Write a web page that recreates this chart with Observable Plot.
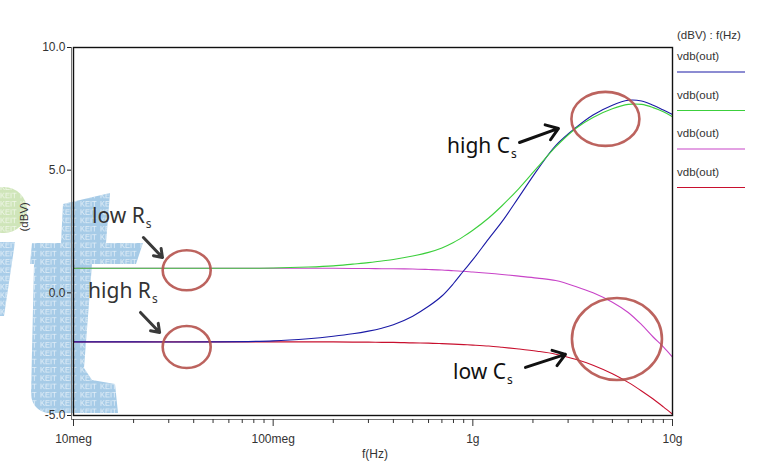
<!DOCTYPE html>
<html><head><meta charset="utf-8">
<script src="https://cdn.jsdelivr.net/npm/d3@7"></script>
<script src="https://cdn.jsdelivr.net/npm/@observablehq/plot@0.6"></script>
<style>
html,body{margin:0;padding:0;background:#fff;}
#wrap{position:relative;width:760px;height:468px;overflow:hidden;}
#wm{position:absolute;left:0;top:0;}
#chart{position:absolute;left:0;top:0;}
#chart svg{background:transparent !important;}
</style></head><body>
<div id="wrap">
<svg id="wm" width="760" height="468">
  <defs>
    <pattern id="keit" width="20" height="8.3" patternUnits="userSpaceOnUse">
      <text x="0" y="7.5" font-family="Liberation Sans, Arial" font-size="7.5" fill="#fff" fill-opacity="0.7">KEIT</text>
    </pattern>
  </defs>
  <g>
    <circle cx="4" cy="210" r="23" fill="#cfe5b9"/>
    <circle cx="4" cy="210" r="23" fill="url(#keit)"/>
    <path d="M0,242 L15,242 L4,316 L0,316 Z" fill="#a9cde9"/>
    <path d="M0,242 L15,242 L4,316 L0,316 Z" fill="url(#keit)"/>
    <path d="M63,204 L110,193 L106,243 L143,243 L136,264 L92,264 L84,368 L92,380 L115,384 L118,413 L47,413 Q33,410 31,395 L34,264 L30,264 L32,243 L61,243 Z" fill="#a6cbe7"/>
    <path d="M63,204 L110,193 L106,243 L143,243 L136,264 L92,264 L84,368 L92,380 L115,384 L118,413 L47,413 Q33,410 31,395 L34,264 L30,264 L32,243 L61,243 Z" fill="url(#keit)"/>
  </g>
</svg>
<div id="chart"></div>
</div>
<script>
// ---- data ----
const freqHz = [1e7, 2e7, 5e7, 1e8, 1.5e8, 2e8, 2.5e8, 3e8, 3.5e8, 4e8, 5e8, 6e8, 7e8, 8e8, 9e8,
  1e9, 1.2e9, 1.4e9, 1.7e9, 2.1e9, 2.6e9, 3.3e9, 4e9, 5e9, 6e9, 7e9, 8e9, 9e9, 1e10];
const dbBlue = [-2.0, -2.0, -2.0, -1.96, -1.87, -1.77, -1.67, -1.56, -1.44, -1.3, -0.95, -0.55, -0.13, 0.38, 0.9,
  1.35, 2.2, 2.9, 3.9, 5.0, 6.0, 6.75, 7.25, 7.65, 7.85, 7.82, 7.65, 7.45, 7.27];
const dbGreen = [1.0, 1.0, 1.0, 1.01, 1.05, 1.1, 1.17, 1.23, 1.3, 1.36, 1.5, 1.65, 1.83, 2.05, 2.3,
  2.55, 3.05, 3.55, 4.25, 5.1, 5.95, 6.72, 7.15, 7.5, 7.68, 7.68, 7.55, 7.38, 7.18];
const dbMagenta = [1.0, 1.0, 1.0, 1.0, 1.0, 1.0, 0.99, 0.99, 0.98, 0.98, 0.97, 0.95, 0.93, 0.9, 0.88,
  0.85, 0.8, 0.75, 0.68, 0.6, 0.5, 0.25, 0.0, -0.38, -0.8, -1.3, -1.8, -2.2, -2.62];
const dbRed = [-2.0, -2.0, -2.0, -2.0, -2.0, -2.0, -2.01, -2.01, -2.02, -2.02, -2.04, -2.05, -2.07, -2.09, -2.11,
  -2.13, -2.17, -2.22, -2.29, -2.38, -2.5, -2.72, -2.95, -3.3, -3.65, -4.0, -4.33, -4.65, -4.95];

const seriesNames = ["vdb(out)", "vdb(out)", "vdb(out)", "vdb(out)"];
const seriesColors = ["#1a1aa6", "#3ccf3c", "#c844c8", "#c8102e"];
const legendTitle = "(dBV) : f(Hz)";

const yTicks = [-5, 0, 5, 10];
const xMajorTicks = [1e7, 1e8, 1e9, 1e10];
const xMajorLabels = ["10meg", "100meg", "1g", "10g"];
const xMinorTicks = [2,3,4,5,6,7,8,9].flatMap(m => [1e7, 1e8, 1e9].map(d => m * d));

// annotations (data coordinates)
const noteMain = ["low R", "high R", "high C", "low C"];
const noteSub = ["s", "s", "s", "s"];
const noteF = [1.245e7, 1.19e7, 7.47e8, 8.0e8];
const noteV = [2.83, -0.23, 5.68, -3.53];
const ringF = [3.71e7, 3.71e7, 4.64e9, 5.3e9];
const ringV = [0.9, -2.23, 7.07, -1.9];
const arrowF1 = [2.24e7, 2.165e7, 1.713e9, 1.835e9];
const arrowV1 = [2.256, -0.80, 6.128, -3.04];
const arrowF2 = [2.79e7, 2.70e7, 2.685e9, 2.91e9];
const arrowV2 = [1.44, -1.617, 6.70, -2.51];

const toRows = vals => freqHz.map((f, i) => ({f, v: vals[i]}));

function annotations(index, scales) {
  const x = scales.x, y = scales.y;
  const g = d3.create("svg:g");
  const ringR = [[24, 20], [24, 21], [34, 27], [45, 41]];
  ringF.forEach((f, i) => {
    g.append("ellipse")
      .attr("cx", x(f)).attr("cy", y(ringV[i]))
      .attr("rx", ringR[i][0]).attr("ry", ringR[i][1])
      .attr("fill", "none").attr("stroke", "#b5524d").attr("stroke-width", 2.6).attr("stroke-opacity", 0.9);
  });
  const textColors = ["#333", "#333", "#111", "#111"];
  noteMain.forEach((t, i) => {
    const tx = g.append("text")
      .attr("x", x(noteF[i])).attr("y", y(noteV[i]))
      .attr("text-anchor", "start")
      .attr("font-family", "Noto Sans, Open Sans, sans-serif")
      .attr("font-size", 21).attr("fill", textColors[i]);
    tx.append("tspan").text(t);
    tx.append("tspan").attr("font-size", 12).attr("dy", 5).attr("dx", 1).text(noteSub[i]);
  });
  return g.node();
}

function legend(index, scales, values, dims) {
  const g = d3.create("svg:g")
    .attr("font-family", "Liberation Sans, Arial, sans-serif")
    .attr("font-size", 11.5).attr("fill", "#333").attr("text-anchor", "start");
  const x0 = dims.width - dims.marginRight + 5;
  g.append("text").attr("x", x0).attr("y", 39).text(legendTitle);
  seriesNames.forEach((s, i) => {
    const yy = 60 + i * 38.5;
    g.append("text").attr("x", x0).attr("y", yy).text(s);
    g.append("line").attr("x1", x0).attr("x2", x0 + 68)
      .attr("y1", yy + 12).attr("y2", yy + 12)
      .attr("stroke", seriesColors[i]).attr("stroke-width", 1.2);
  });
  return g.node();
}

const lineOpts = (c) => ({x: "f", y: "v", stroke: c, strokeWidth: 1.1, curve: "catmull-rom"});

const chart = Plot.plot({
  width: 760,
  height: 468,
  marginLeft: 71,
  marginRight: 88,
  marginTop: 47,
  marginBottom: 49,
  insetLeft: 2,
  insetBottom: 4,
  style: {background: "transparent", fontFamily: "Liberation Sans, Arial, sans-serif", fontSize: "12px", color: "#222"},
  x: {type: "log", domain: [1e7, 1e10]},
  y: {domain: [-5, 10]},
  marks: [
    Plot.ruleX([1e7], {dx: -2, stroke: "#777", strokeWidth: 1}),
    Plot.ruleY([-5], {dy: 4, stroke: "#777", strokeWidth: 1}),
    Plot.line(toRows(dbRed), lineOpts(seriesColors[3])),
    Plot.line(toRows(dbMagenta), lineOpts(seriesColors[2])),
    Plot.line(toRows(dbBlue), lineOpts(seriesColors[0])),
    Plot.line(toRows(dbGreen), lineOpts(seriesColors[1])),
    Plot.frame({insetLeft: 2, insetBottom: 4, stroke: "#111", strokeWidth: 1.4}),
    Plot.axisY({ticks: yTicks, tickFormat: d => d.toFixed(1), tickSize: 4, tickPadding: 2, label: null, fontSize: 12, fill: "#333"}),
    Plot.axisX({ticks: xMinorTicks, tickSize: 4, tickFormat: () => "", label: null, stroke: "#333"}),
    Plot.axisX({ticks: xMajorTicks, tickSize: 7, tickPadding: 8, tickFormat: d => xMajorLabels[xMajorTicks.indexOf(d)], label: null, fontSize: 12, fill: "#333", stroke: "#333"}),
    Plot.text(["(dBV)"], {frameAnchor: "left", rotate: -90, dx: -47, dy: -2, fontSize: 11.5, fill: "#333"}),
    Plot.text(["f(Hz)"], {frameAnchor: "bottom", dy: 38, dx: 3, fontSize: 12, fill: "#333"}),
    Plot.arrow(d3.range(arrowF1.length), {
      x1: i => arrowF1[i], y1: i => arrowV1[i], x2: i => arrowF2[i], y2: i => arrowV2[i],
      stroke: (i) => i < 2 ? "#3a3a3a" : "#111", strokeWidth: 3, headLength: 10, headAngle: 70
    }),
    annotations,
    legend
  ]
});
document.getElementById("chart").appendChild(chart);
</script>
</body></html>
